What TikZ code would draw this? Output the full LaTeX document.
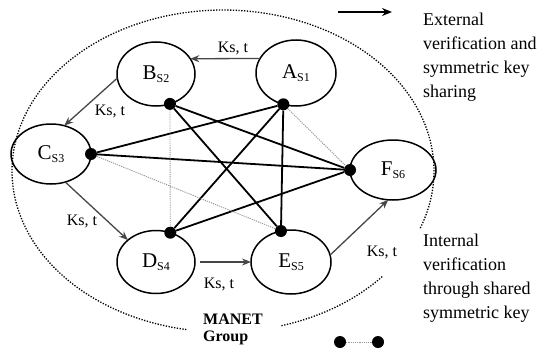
\documentclass[tikz,border=0pt]{standalone}
\usepackage{fontspec}
\setmainfont{Liberation Serif}
\usetikzlibrary{arrows.meta,shapes.geometric}
\definecolor{mngray}{RGB}{70,70,70}
\definecolor{mnlight}{RGB}{150,150,150}
\newcommand{\sitelabel}[2]{{\fontsize{21}{21}\selectfont #1}{\fontsize{12}{12}\selectfont\raisebox{-3pt}{#2}}}

\begin{document}
\begin{tikzpicture}[x=1pt,y=-1pt,
  site/.style={draw, ellipse, line width=1.5pt, inner sep=0pt, outer sep=0pt},
  keydot/.style={circle, fill=black, minimum size=12pt, inner sep=0pt},
  sharedlink/.style={line width=1.8pt},
  weaklink/.style={mnlight, line width=0.9pt, dash pattern=on 1.2pt off 1pt},
  keyarrow/.style={-{Stealth[length=9pt,width=7pt]}, mngray, line width=1.3pt},
  keylbl/.style={font=\fontsize{16}{16}\selectfont, inner sep=0pt},
  legend/.style={font=\fontsize{18}{24}\selectfont, align=left, anchor=north west, inner sep=0pt}]
  \useasboundingbox (0,0) rectangle (538,356);
  % MANET group boundary
  \draw[line width=1.3pt, dash pattern=on 1.3pt off 1.5pt] plot[domain=100:381, samples=140] ({223+211*cos(\x)},{171+161*sin(\x)});
  \draw[line width=1.3pt, dash pattern=on 1.3pt off 1.5pt] plot[domain=41:74, samples=20] ({223+211*cos(\x)},{171+161*sin(\x)});
  % Sites
  \node[site, minimum width=80pt, minimum height=66pt] (A) at (296,73) {\sitelabel{A}{S1}};
  \node[site, minimum width=78pt, minimum height=64pt] (B) at (156,74) {\sitelabel{B}{S2}};
  \node[site, minimum width=80pt, minimum height=60pt] (C) at (51,154) {\sitelabel{C}{S3}};
  \node[site, minimum width=78pt, minimum height=63pt] (D) at (156,262) {\sitelabel{D}{S4}};
  \node[site, minimum width=80pt, minimum height=64pt] (E) at (291,262) {\sitelabel{E}{S5}};
  \node[site, minimum width=86pt, minimum height=60pt] (F) at (393,170) {\sitelabel{F}{S6}};
  % Key points
  \node[keydot] (a) at (A.-112) {};
  \node[keydot] (b) at (B.-65) {};
  \node[keydot] (c) at (C.east) {};
  \node[keydot] (d) at (D.64) {};
  \node[keydot] (e) at (E.108) {};
  \node[keydot] (f) at (F.west) {};
  % Internal links
  \draw[sharedlink] (b) -- (f);
  \draw[sharedlink] (b) -- (e);
  \draw[sharedlink] (a) -- (c);
  \draw[sharedlink] (a) -- (d);
  \draw[sharedlink] (a) -- (e);
  \draw[sharedlink] (c) -- (f);
  \draw[sharedlink] (d) -- (f);
  \draw[weaklink] (b) -- (d);
  \draw[weaklink] (a) -- (f);
  \draw[weaklink] (c) -- (e);
  % External key sharing
  \draw[keyarrow] (A.158) -- (B.24);
  \draw[keyarrow] (B.186) -- (C.65);
  \draw[keyarrow] (C.-63) -- (D.142);
  \draw[keyarrow, shorten <=5pt] (D.east) -- (E.west);
  \draw[keyarrow] (E.10) -- (F.-99);
  \node[keylbl] (k1) at (233,48) {Ks, t};
  \node[keylbl] (k2) at (110,111) {Ks, t};
  \node[keylbl] (k3) at (82,221) {Ks, t};
  \node[keylbl] (k4) at (219,284) {Ks, t};
  \node[keylbl] (k5) at (382,252) {Ks, t};
  \node[font=\fontsize{16}{17}\selectfont\bfseries, align=left, anchor=north west, inner sep=0pt] (grp) at (203,314) {MANET\\Group};
  % Legend
  \coordinate (ext1) at (338,12);
  \coordinate (ext2) at (392,12);
  \draw[-{Stealth[length=10pt,width=8pt]}, line width=1.8pt] (ext1) -- (ext2);
  \node[legend] (extlbl) at (423,13) {External\\verification and\\symmetric key\\sharing};
  \node[keydot] (l1) at (340,342) {};
  \node[keydot] (l2) at (378,342) {};
  \draw[weaklink] (l1) -- (l2);
  \node[legend] (intlbl) at (423,234) {Internal\\verification\\through shared\\symmetric key};
\end{tikzpicture}
\end{document}
